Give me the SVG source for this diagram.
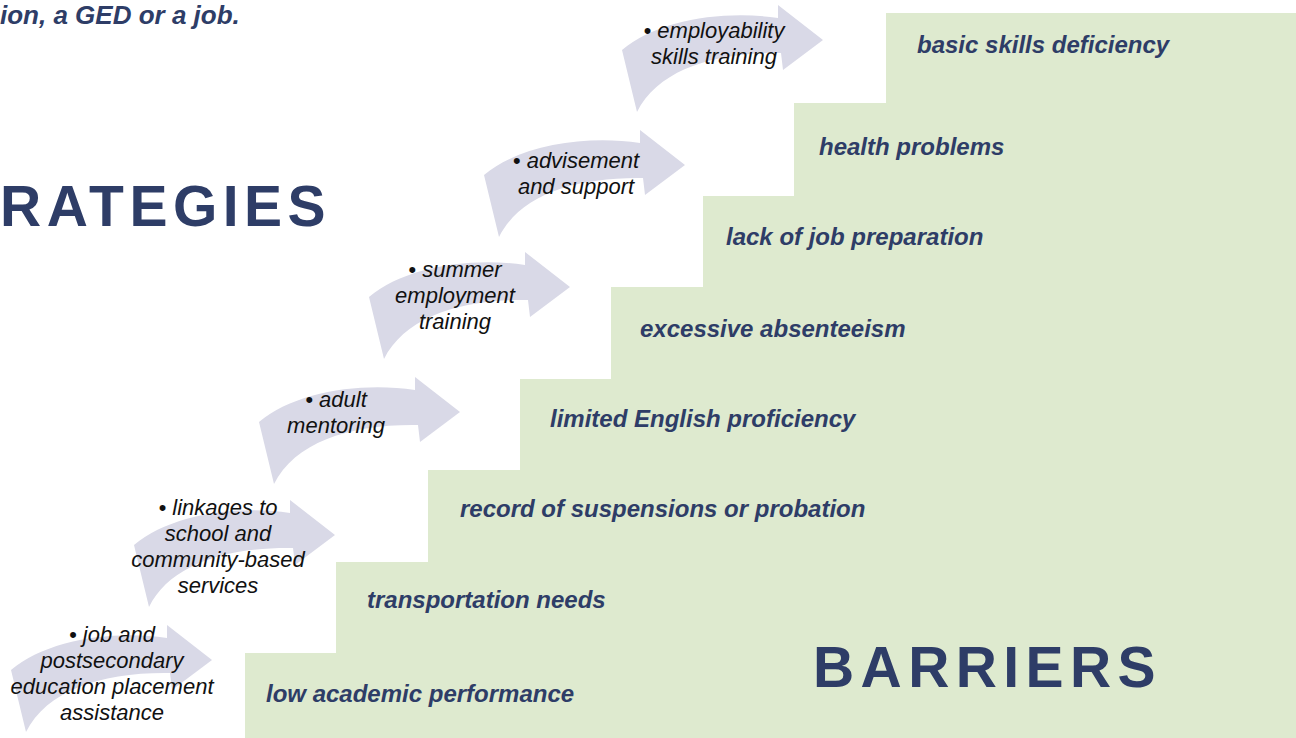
<svg xmlns="http://www.w3.org/2000/svg" xmlns:xlink="http://www.w3.org/1999/xlink" width="1296" height="738" viewBox="0 0 1296 738">
<style>
.step{fill:#deeacf;stroke:none}
.blab{font-family:"Liberation Sans",Arial,sans-serif;font-size:24px;font-weight:bold;font-style:italic;fill:#2e3d67}
.slab{font-family:"Liberation Sans",Arial,sans-serif;font-size:22px;font-style:italic;fill:#111111;text-anchor:middle}
.big{font-family:"Liberation Sans",Arial,sans-serif;font-size:57px;font-weight:bold;fill:#2e3d67;letter-spacing:6px}
.head{font-family:"Liberation Sans",Arial,sans-serif;font-size:26px;font-weight:bold;font-style:italic;fill:#2e3d67}
.arr{fill:#d9d9e7;stroke:none}
</style>
<defs>
<path id="carrow" d="M -201,10 C -165,-20 -100,-30 -45,-22 L -45,-35 L 0,0 L -40,30 L -42,13 C -110,12 -165,30 -186,72 Z"/>
</defs>
<rect width="1296" height="738" fill="#ffffff"/>

<text class="head" x="0" y="24">ion, a GED or a job.</text>
<text id="strategies-title" class="big" x="0" y="226" style="letter-spacing:5.5px">RATEGIES</text>

<g id="barrier-1"><rect class="step" x="245" y="653" width="1051" height="85"/><text class="blab" x="266" y="702">low academic performance</text></g>
<g id="barrier-2"><rect class="step" x="336" y="562" width="960" height="92"/><text class="blab" x="367" y="608">transportation needs</text></g>
<g id="barrier-3"><rect class="step" x="428" y="470" width="868" height="93"/><text class="blab" x="460" y="517">record of suspensions or probation</text></g>
<g id="barrier-4"><rect class="step" x="520" y="379" width="776" height="92"/><text class="blab" x="550" y="427">limited English proficiency</text></g>
<g id="barrier-5"><rect class="step" x="611" y="287" width="685" height="93"/><text class="blab" x="640" y="337">excessive absenteeism</text></g>
<g id="barrier-6"><rect class="step" x="703" y="196" width="593" height="92"/><text class="blab" x="726" y="245">lack of job preparation</text></g>
<g id="barrier-7"><rect class="step" x="794" y="103" width="502" height="94"/><text class="blab" x="819" y="155">health problems</text></g>
<g id="barrier-8"><rect class="step" x="886" y="13" width="410" height="91"/><text class="blab" x="917" y="53">basic skills deficiency</text></g>

<text id="barriers-title" class="big" x="813" y="687" style="letter-spacing:6.4px">BARRIERS</text>

<g id="connectors">
<use xlink:href="#carrow" href="#carrow" class="arr" transform="translate(212,660)"/>
<use xlink:href="#carrow" href="#carrow" class="arr" transform="translate(335,535)"/>
<use xlink:href="#carrow" href="#carrow" class="arr" transform="translate(460,412)"/>
<use xlink:href="#carrow" href="#carrow" class="arr" transform="translate(570,287)"/>
<use xlink:href="#carrow" href="#carrow" class="arr" transform="translate(685,165)"/>
<use xlink:href="#carrow" href="#carrow" class="arr" transform="translate(823,40)"/>
</g>

<g id="strategy-1"><text class="slab" x="112"><tspan x="112" y="642">• job and</tspan><tspan x="112" y="668">postsecondary</tspan><tspan x="112" y="694">education placement</tspan><tspan x="112" y="720">assistance</tspan></text></g>
<g id="strategy-2"><text class="slab" x="218"><tspan x="218" y="515">• linkages to</tspan><tspan x="218" y="541">school and</tspan><tspan x="218" y="567">community-based</tspan><tspan x="218" y="593">services</tspan></text></g>
<g id="strategy-3"><text class="slab" x="336"><tspan x="336" y="407">• adult</tspan><tspan x="336" y="433">mentoring</tspan></text></g>
<g id="strategy-4"><text class="slab" x="455"><tspan x="455" y="277">• summer</tspan><tspan x="455" y="303">employment</tspan><tspan x="455" y="329">training</tspan></text></g>
<g id="strategy-5"><text class="slab" x="576"><tspan x="576" y="168">• advisement</tspan><tspan x="576" y="194">and support</tspan></text></g>
<g id="strategy-6"><text class="slab" x="714"><tspan x="714" y="38">• employability</tspan><tspan x="714" y="64">skills training</tspan></text></g>
</svg>
